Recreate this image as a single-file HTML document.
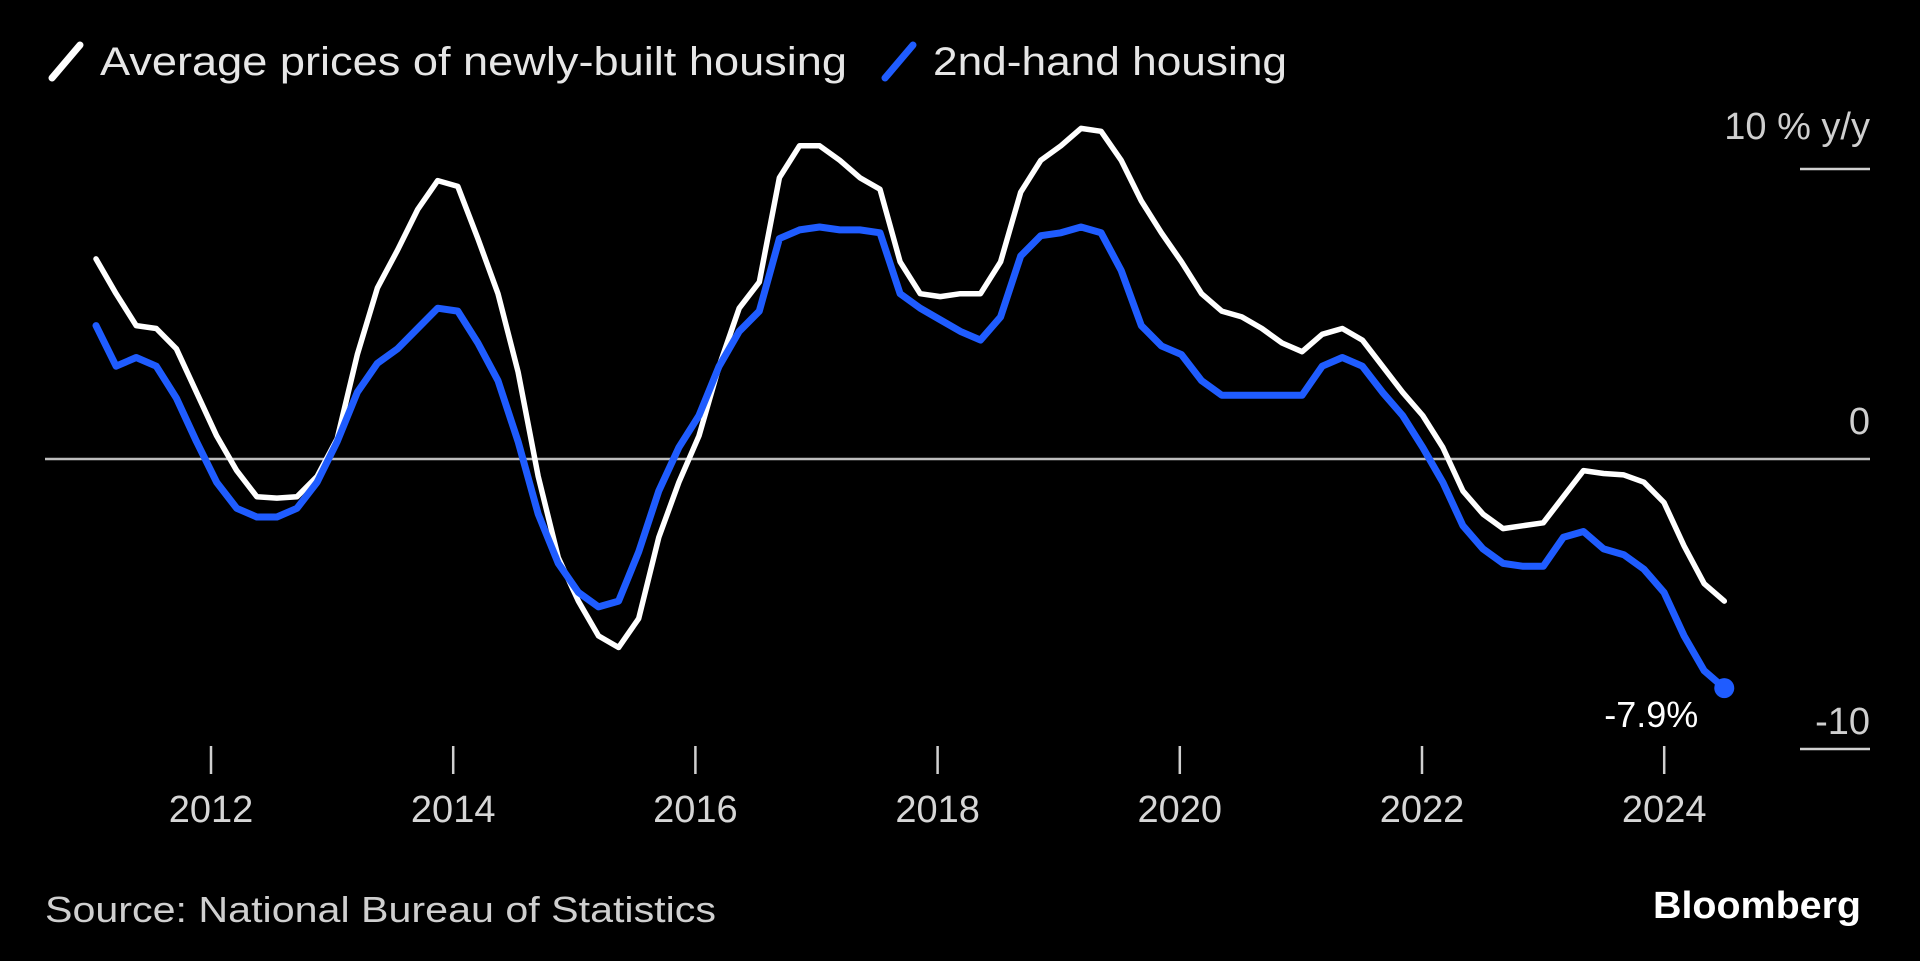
<!DOCTYPE html>
<html><head><meta charset="utf-8"><style>
html,body{margin:0;padding:0;background:#000;}
svg{display:block;font-family:"Liberation Sans",sans-serif;}
</style></head><body>
<svg id="chart" width="1920" height="961" viewBox="0 0 1920 961" xmlns="http://www.w3.org/2000/svg">
<rect width="1920" height="961" fill="#000"/>
<g>
  <line x1="52" y1="78" x2="80" y2="45" stroke="#fff" stroke-width="7" stroke-linecap="round"/>
  <text x="100" y="75" font-size="40" fill="#e6e6e6" textLength="747" lengthAdjust="spacingAndGlyphs">Average prices of newly-built housing</text>
  <line x1="885" y1="78" x2="913" y2="45" stroke="#1f5cff" stroke-width="7" stroke-linecap="round"/>
  <text x="933" y="75" font-size="40" fill="#e6e6e6" textLength="354" lengthAdjust="spacingAndGlyphs">2nd-hand housing</text>
</g>
<g id="axes"></g>
<g id="series"></g>
<text x="45" y="922" font-size="36" fill="#cfcfcf" textLength="671" lengthAdjust="spacingAndGlyphs">Source: National Bureau of Statistics</text>
<text x="1861" y="918" font-size="38" font-weight="bold" fill="#fff" text-anchor="end" textLength="208" lengthAdjust="spacingAndGlyphs">Bloomberg</text>
</svg>
<script>
const startYear = 2011.05;
const stepYears = 0.166;
const newHousing = [6.9,5.7,4.6,4.5,3.8,2.3,0.8,-0.4,-1.3,-1.35,-1.3,-0.6,0.7,3.6,5.9,7.2,8.6,9.6,9.4,7.6,5.7,3.0,-0.6,-3.4,-4.9,-6.1,-6.5,-5.5,-2.7,-0.8,0.8,3.2,5.2,6.1,9.7,10.8,10.8,10.3,9.7,9.3,6.8,5.7,5.6,5.7,5.7,6.8,9.2,10.3,10.8,11.4,11.3,10.3,8.9,7.8,6.8,5.7,5.1,4.9,4.5,4.0,3.7,4.3,4.5,4.1,3.2,2.3,1.5,0.4,-1.1,-1.9,-2.4,-2.3,-2.2,-1.3,-0.4,-0.5,-0.55,-0.8,-1.5,-3.0,-4.3,-4.9];
const secondHand = [4.6,3.2,3.5,3.2,2.1,0.6,-0.8,-1.7,-2.0,-2.0,-1.7,-0.8,0.6,2.3,3.3,3.8,4.5,5.2,5.1,4.0,2.7,0.6,-1.9,-3.6,-4.6,-5.1,-4.9,-3.2,-1.1,0.4,1.5,3.2,4.4,5.1,7.6,7.9,8.0,7.9,7.9,7.8,5.7,5.2,4.8,4.4,4.1,4.9,7.0,7.7,7.8,8.0,7.8,6.5,4.6,3.9,3.6,2.7,2.2,2.2,2.2,2.2,2.2,3.2,3.5,3.2,2.3,1.5,0.4,-0.8,-2.3,-3.1,-3.6,-3.7,-3.7,-2.7,-2.5,-3.1,-3.3,-3.8,-4.6,-6.1,-7.3,-7.9];
const xTickYears = [2012,2014,2016,2018,2020,2022,2024];
const yTicks = [10,0,-10];
const lastLabel = "-7.9%";

const NS = "http://www.w3.org/2000/svg";
function xScale(yr){ return 211 + (yr - 2012) * 121.1; }
function yScale(v){ return 459 - v * 29; }
function mk(tag, attrs, parent){ const e=document.createElementNS(NS,tag); for(const k in attrs) e.setAttribute(k,attrs[k]); parent.appendChild(e); return e; }

const axes = document.getElementById('axes');
const series = document.getElementById('series');

const zl = mk('line',{x1:45,x2:1870,y1:yScale(0),y2:yScale(0),stroke:'#bdbdbd','stroke-width':2.5},axes);



yTicks.forEach(v=>{
  const y=yScale(v);
  if(v!==0){
    const l=mk('line',{x1:1800,x2:1870,y1:y,y2:y,stroke:'#d0d0d0','stroke-width':2.5},axes);
    
    
  }
  const off = v===10 ? 30 : (v===-10 ? 15 : 25);
  const t=mk('text',{x:1870,y:y-off,'font-size':38,fill:'#cfcfcf','text-anchor':'end'},axes);
  t.textContent = v===10 ? '10 % y/y' : String(v);
  
  
});

xTickYears.forEach(yr=>{
  const x=xScale(yr);
  const l=mk('line',{x1:x,x2:x,y1:746,y2:774,stroke:'#d0d0d0','stroke-width':2.5},axes);
  
  
  const t=mk('text',{x:x,y:822,'font-size':38,fill:'#d6d6d6','text-anchor':'middle'},axes);
  t.textContent=String(yr);
  
  
});

function path(vals){ return vals.map((v,i)=>(i?'L':'M')+xScale(startYear+i*stepYears).toFixed(1)+','+yScale(v).toFixed(1)).join(''); }

const p1=mk('path',{d:path(newHousing),fill:'none',stroke:'#ffffff','stroke-width':5.5,'stroke-linejoin':'round','stroke-linecap':'round'},series);


const p2=mk('path',{d:path(secondHand),fill:'none',stroke:'#1f5cff','stroke-width':7,'stroke-linejoin':'round','stroke-linecap':'round'},series);



const li=secondHand.length-1;
const lx=xScale(startYear+li*stepYears), ly=yScale(secondHand[li]);
const dot=mk('circle',{cx:lx,cy:ly,r:10,fill:'#1f5cff'},series);


const lt=mk('text',{x:lx-73,y:ly+39,'font-size':36,fill:'#ffffff','text-anchor':'middle'},series);
lt.textContent=lastLabel;


</script>
</body></html>
